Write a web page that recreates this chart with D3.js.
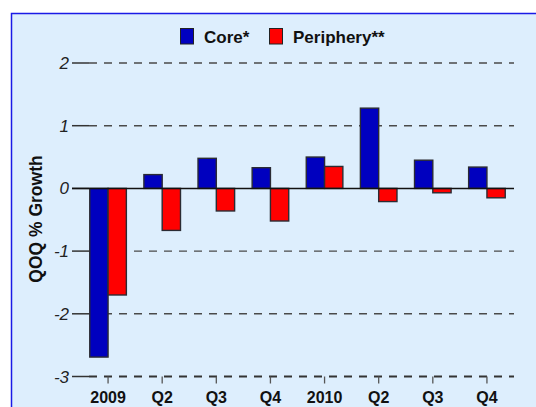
<!DOCTYPE html>
<html>
<head>
<meta charset="utf-8">
<script src="https://cdn.jsdelivr.net/npm/d3@7"></script>
<style>
  body { margin: 0; background: #fff; }
  svg { display: block; font-family: "Liberation Sans", Arial, sans-serif; }
</style>
</head>
<body>
<svg></svg>
<script>
var width = 536,
	height = 407;

var quarters = ["2009", "Q2", "Q3", "Q4", "2010", "Q2 ", "Q3 ", "Q4 "];
var coreGrowth = [-2.69, 0.22, 0.48, 0.33, 0.50, 1.28, 0.45, 0.34];
var peripheryGrowth = [-1.70, -0.67, -0.36, -0.52, 0.35, -0.21, -0.07, -0.15];
var seriesNames = ["Core*", "Periphery**"];
var seriesColors = ["#0000bf", "#ff0000"];
var yTicks = [-3, -2, -1, 0, 1, 2];

var svg = d3.select("svg")
	.attr("width", width)
	.attr("height", height);

// panel
svg.append("rect")
	.attr("x", 11.5)
	.attr("y", 13.5)
	.attr("width", 540)
	.attr("height", 410)
	.attr("fill", "#ddeefd")
	.attr("stroke", "#1a1ae6")
	.attr("stroke-width", 1.5);

var x = d3.scaleBand()
	.domain(quarters)
	.range([81, 514]);

var y = d3.scaleLinear()
	.domain([-3, 2])
	.range([376.5, 63]);

var barW = 18.3;

// gridlines
var grid = svg.append("g");
grid.selectAll("line.grid")
	.data(yTicks.filter(function(d) { return d != 0; }))
	.enter()
	.append("line")
	.attr("x1", 89)
	.attr("x2", 514)
	.attr("y1", function(d) { return y(d); })
	.attr("y2", function(d) { return y(d); })
	.attr("stroke", function(d) { return d == -3 ? "#333" : "#4a4a4a"; })
	.attr("stroke-width", function(d) { return d == -3 ? 2 : 1.4; })
	.attr("stroke-dasharray", "8,7");

// y ticks (solid stubs) and labels
grid.selectAll("line.tick")
	.data(yTicks)
	.enter()
	.append("line")
	.attr("x1", 72)
	.attr("x2", 89)
	.attr("y1", function(d) { return y(d); })
	.attr("y2", function(d) { return y(d); })
	.attr("stroke", "#333")
	.attr("stroke-width", 1.5);

grid.selectAll("text")
	.data(yTicks)
	.enter()
	.append("text")
	.attr("x", 69)
	.attr("y", function(d) { return y(d) + 6; })
	.attr("text-anchor", "end")
	.style("font-size", "17px")
	.style("font-style", "italic")
	.style("fill", "#222")
	.text(function(d) { return d; });

// x ticks at the bottom
svg.append("g").selectAll("line")
	.data(quarters)
	.enter()
	.append("line")
	.attr("x1", function(d) { return x(d) + x.bandwidth() / 2; })
	.attr("x2", function(d) { return x(d) + x.bandwidth() / 2; })
	.attr("y1", y(-3))
	.attr("y2", y(-3) + 7)
	.attr("stroke", "#555")
	.attr("stroke-width", 1.3);

svg.append("g").selectAll("text")
	.data(quarters)
	.enter()
	.append("text")
	.attr("x", function(d) { return x(d) + x.bandwidth() / 2; })
	.attr("y", 403)
	.attr("text-anchor", "middle")
	.style("font-size", "16px")
	.style("font-weight", "bold")
	.style("fill", "#111")
	.text(function(d) { return d.trim(); });

// bars
var allSeries = [coreGrowth, peripheryGrowth];
allSeries.forEach(function(vals, s) {
	svg.append("g").selectAll("rect")
		.data(vals)
		.enter()
		.append("rect")
		.attr("x", function(d, i) { return x(quarters[i]) + x.bandwidth() / 2 - barW + s * barW; })
		.attr("width", barW)
		.attr("y", function(d) { return y(Math.max(0, d)); })
		.attr("height", function(d) { return Math.abs(y(d) - y(0)); })
		.attr("fill", seriesColors[s])
		.attr("stroke", "#2b2b33")
		.attr("stroke-width", 1.4);
});

// zero line
svg.append("line")
	.attr("x1", 72)
	.attr("x2", 514)
	.attr("y1", y(0))
	.attr("y2", y(0))
	.attr("stroke", "#111")
	.attr("stroke-width", 1.5);

// y title
svg.append("text")
	.attr("transform", "translate(42,219) rotate(-90)")
	.attr("text-anchor", "middle")
	.style("font-size", "17.5px")
	.style("font-weight", "bold")
	.style("fill", "#111")
	.text("QOQ % Growth");

// legend
var legend = svg.append("g");
var legX = [180, 269];
seriesNames.forEach(function(name, i) {
	legend.append("rect")
		.attr("x", legX[i] + 0.5)
		.attr("y", 28.5)
		.attr("width", 13)
		.attr("height", 15.5)
		.attr("fill", seriesColors[i])
		.attr("stroke", "#222")
		.attr("stroke-width", 1);
	legend.append("text")
		.attr("x", legX[i] + 24)
		.attr("y", 43)
		.style("font-size", "17px")
		.style("font-weight", "bold")
		.style("fill", "#111")
		.text(name);
});
</script>
</body>
</html>
